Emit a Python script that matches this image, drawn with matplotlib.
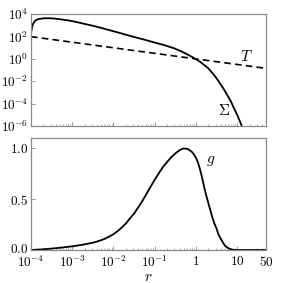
import numpy as np
import matplotlib
matplotlib.use('Agg')
import matplotlib.pyplot as plt
import matplotlib.transforms as mtransforms

plt.rcParams['mathtext.fontset'] = 'cm'
plt.rcParams['font.family'] = 'serif'
plt.rcParams['font.serif'] = ['cmr10', 'DejaVu Serif']
plt.rcParams['axes.unicode_minus'] = False

# surface density Sigma(r)
r_sig = [1.0e-4, 1.07e-4, 1.15e-4, 1.26e-4, 1.41e-4, 1.58e-4, 2.0e-4, 2.63e-4,
         3.55e-4, 5.0e-4, 7.9e-4, 1.17e-3, 2.0e-3, 3.16e-3, 5.0e-3, 7.8e-3,
         1.26e-2, 2.0e-2, 3.16e-2, 6.0e-2, 0.1, 0.158, 0.295, 0.447, 0.631,
         0.794, 1.0, 1.26, 1.58, 2.0, 2.34, 2.82, 3.39, 4.07, 5.01, 6.03,
         7.08, 8.32, 10.0, 12.6, 14.5]
sigma = [2.0e2, 7.9e2, 1.6e3, 2.5e3, 3.2e3, 3.6e3, 4.1e3, 4.2e3,
         4.0e3, 3.4e3, 2.7e3, 2.05e3, 1.3e3, 8.9e2, 5.8e2, 3.7e2,
         2.3e2, 1.4e2, 8.9e1, 4.8e1, 2.8e1, 1.8e1, 8.7, 4.5, 2.4,
         1.5, 0.91, 0.54, 0.28, 0.14, 7.1e-2, 3.2e-2, 1.26e-2, 4.6e-3, 1.4e-3, 4.2e-4,
         1.5e-4, 4.0e-5, 1.0e-5, 1.26e-6, 3.2e-7]

# temperature T(r), a straight line in log-log
r_T = [1.0e-4, 50.0]
temp = [95.0, 0.14]

# g(r), linear panel
r_g = [1.0e-4, 1.8e-4, 3.2e-4, 5.6e-4, 1.0e-3, 1.8e-3, 3.2e-3, 4.0e-3, 5.0e-3,
       6.3e-3, 7.9e-3, 1.0e-2, 1.26e-2, 1.58e-2, 2.0e-2, 2.5e-2, 3.2e-2, 4.0e-2,
       5.0e-2, 6.3e-2, 7.9e-2, 0.1, 0.126, 0.158, 0.2, 0.25, 0.32, 0.4, 0.5,
       0.63, 0.79, 0.89, 1.0, 1.12, 1.26, 1.41, 1.58, 1.78, 2.0, 2.24, 2.5,
       2.8, 3.2, 3.5, 4.0, 4.5, 5.0, 5.6, 6.3, 7.1, 7.9, 8.9, 10.0, 50.0]
g = [0.0, 0.006, 0.014, 0.024, 0.036, 0.052, 0.072, 0.083, 0.096,
     0.112, 0.132, 0.155, 0.185, 0.22, 0.26, 0.31, 0.36, 0.42,
     0.48, 0.55, 0.62, 0.69, 0.755, 0.815, 0.865, 0.91, 0.95, 0.98, 0.997,
     0.993, 0.965, 0.94, 0.905, 0.86, 0.79, 0.71, 0.62, 0.535, 0.46, 0.39, 0.32,
     0.26, 0.205, 0.155, 0.11, 0.075, 0.045, 0.027, 0.015, 0.007, 0.002, 0.0, 0.0, 0.0]

xticks = [1e-4, 1e-3, 1e-2, 1e-1, 1, 10, 50]
xticklabels = ['$10^{-4}$', '$10^{-3}$', '$10^{-2}$', '$10^{-1}$', '$1$', '$10$', '$50$']
yticks_top = [1e4, 1e2, 1e0, 1e-2, 1e-4, 1e-6]
yticklabels_top = ['$10^{4}$', '$10^{2}$', '$10^{0}$', '$10^{-2}$', '$10^{-4}$', '$10^{-6}$']
yticks_bot = [0.0, 0.5, 1.0]
yticklabels_bot = ['$0.0$', '$0.5$', '$1.0$']

W, H = 281, 283
fig = plt.figure(figsize=(W / 100, H / 100), dpi=100)
ax1 = fig.add_axes([31 / W, 1 - 126 / H, 235 / W, 112 / H])
ax2 = fig.add_axes([31 / W, 1 - 250 / H, 235 / W, 112 / H])

fs = 9.5
for ax in (ax1, ax2):
    ax.set_xscale('log')
    ax.set_xlim(1e-4, 50)
    for sp in ax.spines.values():
        sp.set_color('#8a8a8a')
        sp.set_linewidth(0.9)
    ax.tick_params(which='both', direction='in', color='#8a8a8a', labelsize=fs,
                   top=False, right=False, pad=2)
    ax.tick_params(axis='x', pad=3.5)
    ax.tick_params(which='major', length=3, width=0.6)
    ax.tick_params(which='minor', length=1.5, width=0.5)
    ax.set_xticks(xticks)
    ax.xaxis.set_minor_locator(matplotlib.ticker.LogLocator(base=10, subs=np.arange(2, 10), numticks=20))
    ax.xaxis.set_minor_formatter(matplotlib.ticker.NullFormatter())

ax1.plot(r_sig, sigma, 'k-', lw=1.3)
ax1.plot(r_T, temp, 'k--', lw=1.2, dashes=(4, 2.5))
ax1.set_yscale('log')
ax1.set_ylim(1e-6, 1e4)
ax1.set_yticks(yticks_top)
ax1.set_yticklabels(yticklabels_top)
ax1.yaxis.set_minor_locator(matplotlib.ticker.NullLocator())
ax1.set_xticklabels([])
ax1.text(17, 1.6, '$T$', fontsize=11, ha='center', va='center')
ax1.text(4.8, 2.5e-5, r'$\Sigma$', fontsize=11, ha='center', va='center')

ax2.plot(r_g, g, 'k-', lw=1.3)
ax2.set_ylim(0, 1.1)
ax2.set_yticks(yticks_bot)
ax2.set_yticklabels(yticklabels_bot)
ax2.set_xticklabels(xticklabels)
ax2.text(2.3, 0.87, '$g$', fontsize=11, ha='center', va='center')
ax2.set_xlabel('$r$', fontsize=11, labelpad=0)

# nudge the "0.0" label up a touch so it clears the 10^-4 label
lab0 = ax2.get_yticklabels()[0]
lab0.set_transform(lab0.get_transform() + mtransforms.ScaledTranslation(0, 2 / 100, fig.dpi_scale_trans))

fig.savefig('out.png', dpi=100)
